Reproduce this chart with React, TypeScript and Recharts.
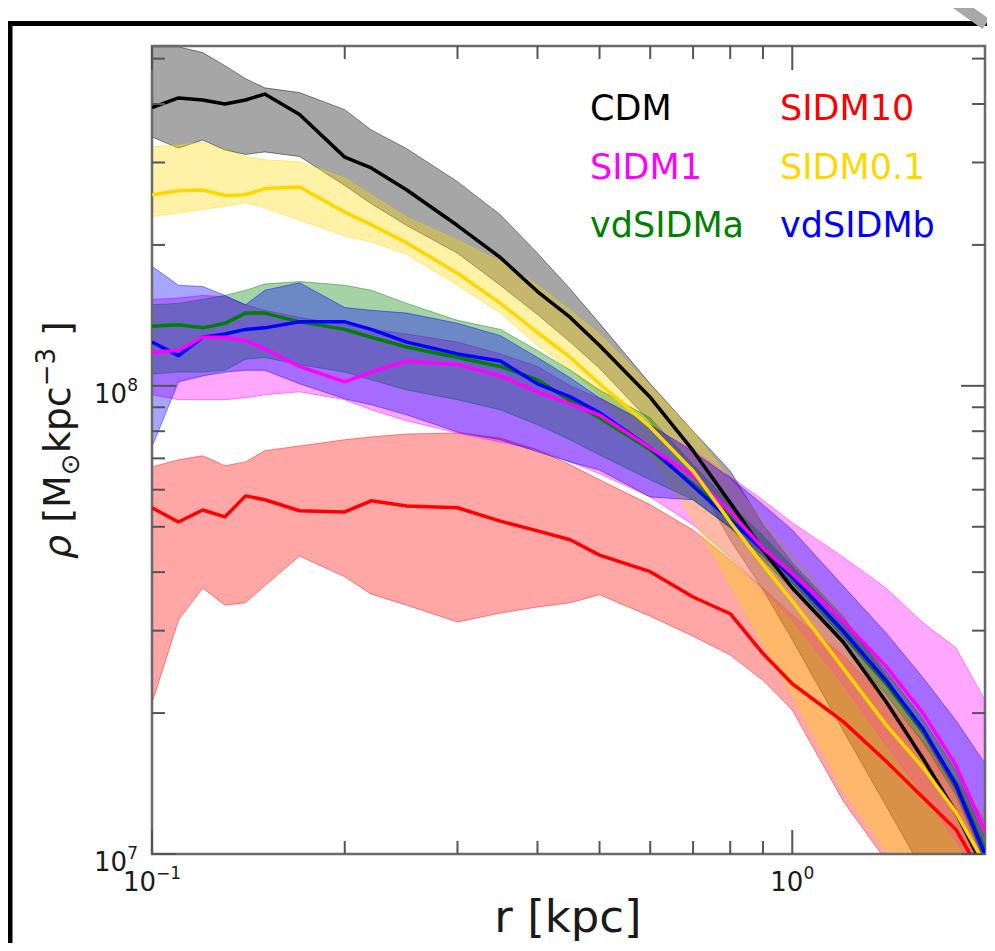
import { ComposedChart, Area, Line, XAxis, YAxis, ReferenceArea } from 'recharts'

// radius grid [kpc]
const R = [0.1, 0.11, 0.12, 0.13, 0.14, 0.15, 0.17, 0.2, 0.22, 0.25, 0.3, 0.35, 0.4, 0.45, 0.5, 0.6, 0.7, 0.8, 0.9, 1.0, 1.2, 1.4, 1.6, 1.8, 2.0]

// density [Msun kpc^-3]: median and band edges for each model
const CDM = [3.93e8, 4.12e8, 4.08e8, 4.0e8, 4.08e8, 4.2e8, 3.8e8, 3.08e8, 2.92e8, 2.62e8, 2.2e8, 1.88e8, 1.59e8, 1.4e8, 1.22e8, 9.45e7, 7.27e7, 5.63e7, 4.46e7, 3.7e7, 2.84e7, 2.12e7, 1.6e7, 1.23e7, 9.2e6]
const CDM_HI = [5.3e8, 5.3e8, 5.15e8, 4.83e8, 4.53e8, 4.33e8, 4.23e8, 3.89e8, 3.52e8, 3.21e8, 2.73e8, 2.32e8, 1.92e8, 1.61e8, 1.36e8, 1.01e8, 8.0e7, 6.58e7, 5.05e7, 4.19e7, 3.22e7, 2.4e7, 1.81e7, 1.39e7, 1.03e7]
const CDM_LO = [3.4e8, 3.22e8, 3.35e8, 3.19e8, 3.12e8, 3.16e8, 3.09e8, 2.68e8, 2.45e8, 2.2e8, 1.92e8, 1.64e8, 1.42e8, 1.24e8, 1.09e8, 8.38e7, 6.5e7, 4.69e7, 3.67e7, 2.87e7, 1.84e7, 1.27e7, 9.2e6, 7.2e6, 5.6e6]

const SIDM10 = [5.49e7, 5.12e7, 5.43e7, 5.25e7, 5.82e7, 5.71e7, 5.41e7, 5.38e7, 5.68e7, 5.54e7, 5.49e7, 5.14e7, 4.9e7, 4.69e7, 4.35e7, 4.01e7, 3.54e7, 3.26e7, 2.68e7, 2.31e7, 1.92e7, 1.58e7, 1.32e7, 1.13e7, 8.8e6]
const SIDM10_HI = [6.71e7, 6.95e7, 7.09e7, 6.75e7, 6.88e7, 7.27e7, 7.44e7, 7.67e7, 7.78e7, 7.89e7, 7.93e7, 7.74e7, 7.3e7, 6.78e7, 6.3e7, 5.57e7, 4.92e7, 4.25e7, 3.7e7, 3.24e7, 2.66e7, 2.13e7, 1.75e7, 1.44e7, 1.18e7]
const SIDM10_LO = [2.1e7, 3.16e7, 3.7e7, 3.4e7, 3.44e7, 3.74e7, 4.33e7, 3.91e7, 3.59e7, 3.4e7, 3.13e7, 3.27e7, 3.37e7, 3.44e7, 3.58e7, 3.22e7, 2.92e7, 2.66e7, 2.35e7, 2.03e7, 1.3e7, 9.7e6, 7.6e6, 6.2e6, 5.1e6]

const SIDM1 = [1.18e8, 1.19e8, 1.27e8, 1.27e8, 1.25e8, 1.2e8, 1.1e8, 1.02e8, 1.07e8, 1.13e8, 1.11e8, 1.05e8, 9.71e7, 9.15e7, 8.67e7, 7.37e7, 6.42e7, 5.38e7, 4.5e7, 3.97e7, 3.15e7, 2.52e7, 2.0e7, 1.55e7, 1.12e7]
const SIDM1_HI = [1.53e8, 1.54e8, 1.56e8, 1.55e8, 1.49e8, 1.45e8, 1.4e8, 1.35e8, 1.32e8, 1.29e8, 1.24e8, 1.17e8, 1.1e8, 1.0e8, 9.4e7, 8.2e7, 7.3e7, 6.4e7, 5.7e7, 5.1e7, 4.31e7, 3.7e7, 3.12e7, 2.76e7, 2.13e7]
const SIDM1_LO = [9.57e7, 9.34e7, 9.34e7, 9.34e7, 9.43e7, 9.57e7, 9.71e7, 9.34e7, 8.89e7, 8.42e7, 7.93e7, 7.59e7, 7.3e7, 6.88e7, 6.49e7, 5.79e7, 5.05e7, 4.31e7, 3.67e7, 3.16e7, 2.3e7, 1.71e7, 1.34e7, 1.07e7, 8.4e6]

const SIDM01 = [2.56e8, 2.61e8, 2.62e8, 2.55e8, 2.56e8, 2.64e8, 2.66e8, 2.35e8, 2.21e8, 2.02e8, 1.74e8, 1.5e8, 1.3e8, 1.15e8, 1.01e8, 8.17e7, 6.58e7, 5.12e7, 4.15e7, 3.47e7, 2.5e7, 1.89e7, 1.53e7, 1.23e7, 9.5e6]
const SIDM01_HI = [3.24e8, 3.27e8, 3.31e8, 3.19e8, 3.09e8, 3.04e8, 3.01e8, 2.78e8, 2.56e8, 2.29e8, 2.05e8, 1.84e8, 1.64e8, 1.45e8, 1.29e8, 1.0e8, 7.97e7, 6.3e7, 5.17e7, 4.35e7, 3.24e7, 2.47e7, 1.93e7, 1.53e7, 1.18e7]
const SIDM01_LO = [2.3e8, 2.34e8, 2.38e8, 2.42e8, 2.46e8, 2.4e8, 2.26e8, 2.09e8, 2.03e8, 1.91e8, 1.64e8, 1.43e8, 1.22e8, 1.08e8, 9.57e7, 7.12e7, 5.17e7, 3.76e7, 2.8e7, 2.19e7, 1.37e7, 1.02e7, 8.0e6, 6.2e6, 4.9e6]

const VDA = [1.34e8, 1.35e8, 1.33e8, 1.36e8, 1.43e8, 1.43e8, 1.37e8, 1.32e8, 1.27e8, 1.21e8, 1.15e8, 1.1e8, 1.03e8, 9.29e7, 8.54e7, 7.3e7, 6.17e7, 5.28e7, 4.51e7, 3.89e7, 2.98e7, 2.32e7, 1.83e7, 1.42e7, 1.02e7]
const VDA_HI = [1.49e8, 1.5e8, 1.53e8, 1.56e8, 1.6e8, 1.65e8, 1.67e8, 1.64e8, 1.6e8, 1.5e8, 1.38e8, 1.32e8, 1.19e8, 1.08e8, 9.8e7, 8.54e7, 6.78e7, 5.6e7, 4.78e7, 4.12e7, 3.16e7, 2.46e7, 1.94e7, 1.51e7, 1.08e7]
const VDA_LO = [1.06e8, 1.07e8, 1.07e8, 1.08e8, 1.14e8, 1.15e8, 1.11e8, 1.07e8, 1.03e8, 9.8e7, 9.34e7, 8.89e7, 8.26e7, 7.67e7, 7.12e7, 6.3e7, 5.71e7, 4.97e7, 4.25e7, 3.67e7, 2.81e7, 2.19e7, 1.73e7, 1.34e7, 9.6e6]

const VDB = [1.24e8, 1.16e8, 1.27e8, 1.29e8, 1.32e8, 1.33e8, 1.37e8, 1.37e8, 1.32e8, 1.24e8, 1.17e8, 1.13e8, 1.01e8, 9.47e7, 8.76e7, 7.37e7, 6.11e7, 5.17e7, 4.46e7, 3.91e7, 3.0e7, 2.35e7, 1.85e7, 1.41e7, 1.0e7]
const VDB_HI = [1.8e8, 1.64e8, 1.63e8, 1.56e8, 1.49e8, 1.6e8, 1.66e8, 1.47e8, 1.45e8, 1.43e8, 1.36e8, 1.28e8, 1.15e8, 1.04e8, 9.43e7, 8.26e7, 7.23e7, 6.36e7, 5.57e7, 4.92e7, 3.74e7, 2.97e7, 2.38e7, 1.93e7, 1.56e7]
const VDB_LO = [7.41e7, 1.02e8, 1.05e8, 1.07e8, 1.08e8, 1.08e8, 1.01e8, 9.38e7, 9.11e7, 8.67e7, 7.97e7, 7.67e7, 7.23e7, 6.88e7, 6.61e7, 5.79e7, 5.71e7, 4.99e7, 4.33e7, 3.79e7, 2.91e7, 2.29e7, 1.8e7, 1.37e7, 9.7e6]

const X_TICKS = [0.1, 0.2, 0.3, 0.4, 0.5, 0.6, 0.7, 0.8, 0.9, 1]
const X_MAJOR = [0.1, 1]
const Y_TICKS = [1e7, 2e7, 3e7, 4e7, 5e7, 6e7, 7e7, 8e7, 9e7, 1e8, 2e8, 3e8, 4e8, 5e8]
const Y_MAJOR = [1e7, 1e8]
const X_DOMAIN = [0.1, 2]
const Y_DOMAIN = [1e7, 5.32e8]

// legend / band order
const SERIES = [
  { key: 'cdm', name: 'CDM', color: '#000000', mid: CDM, lo: CDM_LO, hi: CDM_HI },
  { key: 'sidm10', name: 'SIDM10', color: '#ff0000', mid: SIDM10, lo: SIDM10_LO, hi: SIDM10_HI },
  { key: 'sidm1', name: 'SIDM1', color: '#ff00ff', mid: SIDM1, lo: SIDM1_LO, hi: SIDM1_HI },
  { key: 'sidm01', name: 'SIDM0.1', color: '#ffd700', mid: SIDM01, lo: SIDM01_LO, hi: SIDM01_HI },
  { key: 'vda', name: 'vdSIDMa', color: '#008000', mid: VDA, lo: VDA_LO, hi: VDA_HI },
  { key: 'vdb', name: 'vdSIDMb', color: '#0000ff', mid: VDB, lo: VDB_LO, hi: VDB_HI },
]
// order the median lines are stacked in
const LINE_ORDER = ['vda', 'vdb', 'cdm', 'sidm10', 'sidm1', 'sidm01']

const data = R.map((r, i) => {
  const row: Record<string, any> = { r }
  SERIES.forEach((s) => {
    row[s.key] = s.mid[i]
    row[s.key + 'Band'] = [s.lo[i], s.hi[i]]
  })
  return row
})

// plot box in chart coordinates (chart sits at 8,8 on the page)
const W = 979
const H = 935
const PL = 144
const PR = 977
const PT = 38
const PB = 846
const TICK_COLOR = '#555'
const FONT = '"DejaVu Sans", sans-serif'

const sup = (v: number) => {
  const e = Math.round(Math.log10(v))
  return e < 0 ? '\u2212' + Math.abs(e) : String(e)
}

function XTick(props: any) {
  const { x, payload } = props
  const v = payload.value
  const major = X_MAJOR.includes(v)
  const len = major ? 24 : 13
  return (
    <g>
      <line x1={x} x2={x} y1={PB} y2={PB - len} stroke={TICK_COLOR} strokeWidth={2} />
      <line x1={x} x2={x} y1={PT} y2={PT + len} stroke={TICK_COLOR} strokeWidth={2} />
      {major && (
        <text x={x} y={PB + 37} textAnchor="middle" fontSize={26} fontFamily={FONT} fill="#1a1a1a">
          10<tspan dy={-12} fontSize={17}>{sup(v)}</tspan>
        </text>
      )}
    </g>
  )
}

function YTick(props: any) {
  const { y, payload } = props
  const v = payload.value
  const major = Y_MAJOR.includes(v)
  const len = major ? 24 : 13
  return (
    <g>
      <line x1={PL} x2={PL + len} y1={y} y2={y} stroke={TICK_COLOR} strokeWidth={2} />
      <line x1={PR} x2={PR - len} y1={y} y2={y} stroke={TICK_COLOR} strokeWidth={2} />
      {major && (
        <text x={PL - 14} y={y + 17} textAnchor="end" fontSize={26} fontFamily={FONT} fill="#1a1a1a">
          10<tspan dy={-12} fontSize={17}>{sup(v)}</tspan>
        </text>
      )}
    </g>
  )
}

export default function App() {
  const lines = LINE_ORDER.map((k) => SERIES.find((s) => s.key === k)!)
  return (
    <div style={{ position: 'relative', width: W, height: H }}>
      <style>{'html,body{overflow:hidden}'}</style>
      <ComposedChart
        width={W}
        height={H}
        data={data}
        margin={{ top: PT, right: W - PR, bottom: H - PB - 60, left: PL - 60 }}
      >
        <XAxis
          dataKey="r"
          type="number"
          scale="log"
          domain={X_DOMAIN}
          allowDataOverflow
          ticks={X_TICKS}
          interval={0}
          tick={<XTick />}
          tickLine={false}
          axisLine={false}
          height={60}
        />
        <YAxis
          type="number"
          scale="log"
          domain={Y_DOMAIN}
          allowDataOverflow
          ticks={Y_TICKS}
          interval={0}
          tick={<YTick />}
          tickLine={false}
          axisLine={false}
          width={60}
        />
        {SERIES.map((s) => (
          <Area
            key={s.key + 'Band'}
            dataKey={s.key + 'Band'}
            type="linear"
            fill={s.color}
            fillOpacity={0.35}
            stroke={s.color}
            strokeOpacity={0.45}
            strokeWidth={1}
            isAnimationActive={false}
            legendType="none"
          />
        ))}
        {lines.map((s) => (
          <Line
            key={s.key}
            dataKey={s.key}
            name={s.name}
            type="linear"
            stroke={s.color}
            strokeWidth={3.5}
            strokeLinejoin="round"
            dot={false}
            isAnimationActive={false}
          />
        ))}
        <ReferenceArea
          x1={X_DOMAIN[0]}
          x2={X_DOMAIN[1]}
          y1={Y_DOMAIN[0]}
          y2={Y_DOMAIN[1]}
          fill="none"
          stroke="#6a6a6a"
          strokeWidth={2.5}
          ifOverflow="visible"
        />
      </ComposedChart>
      <svg
        width={995}
        height={951}
        style={{ position: 'absolute', left: -8, top: -8, pointerEvents: 'none' }}
      >
        <rect x={8} y={21} width={987} height={5} fill="#000" />
        <rect x={8} y={21} width={4.5} height={930} fill="#000" />
        <line x1={952} y1={0} x2={986} y2={24} stroke="#a8a8a8" strokeWidth={12} />
        {SERIES.map((s, i) => (
          <text
            key={s.key}
            x={i % 2 === 0 ? 590 : 780}
            y={120 + Math.floor(i / 2) * 58.5}
            fontSize={35}
            fontFamily={FONT}
            fill={s.color}
          >
            {s.name}
          </text>
        ))}
        <text x={568} y={932} textAnchor="middle" fontSize={45} fontFamily={FONT} fill="#1a1a1a">
          r [kpc]
        </text>
        <text
          x={70}
          y={440}
          transform="rotate(-90 70 440)"
          textAnchor="middle"
          fontSize={38}
          fontFamily={FONT}
          fill="#1a1a1a"
        >
          <tspan fontStyle="italic">ρ</tspan> [M<tspan dy={9} fontSize={26}>⊙</tspan>
          <tspan dy={-9}>kpc</tspan>
          <tspan dy={-15} fontSize={26}>−3</tspan>
          <tspan dy={15}> ]</tspan>
        </text>
      </svg>
    </div>
  )
}
